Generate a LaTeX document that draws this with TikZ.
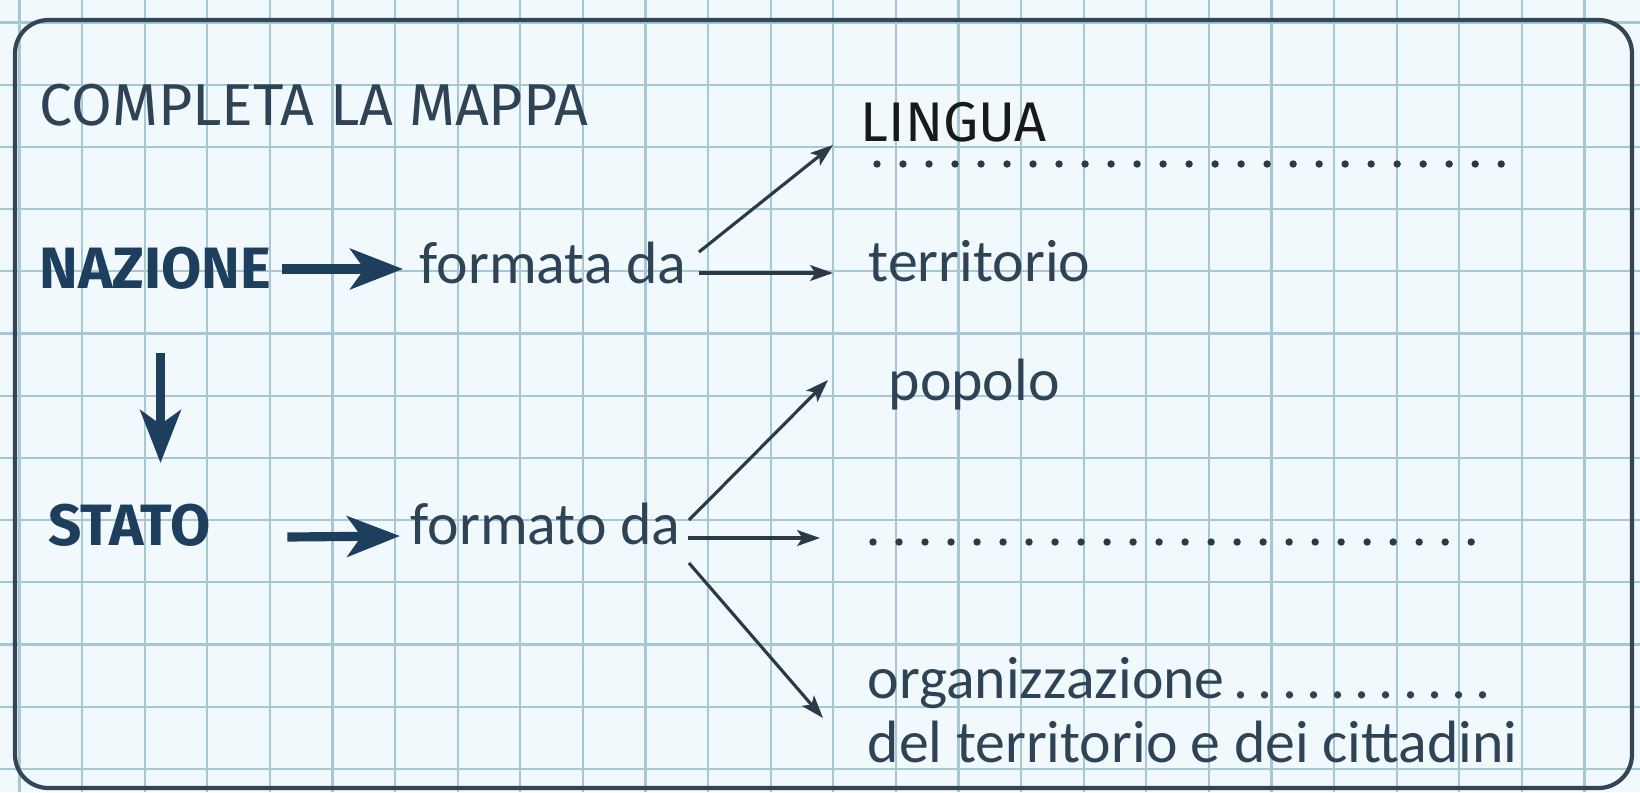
\documentclass[tikz,border=0pt]{standalone}
\usepackage{fontspec}
\setmainfont{Fira Sans}
\newfontfamily\handfont{Carlito}
\usetikzlibrary{arrows.meta}
\usetikzlibrary{calc}

\definecolor{paper}{RGB}{241,249,252}
\definecolor{gridline}{RGB}{166,199,212}
\definecolor{framecol}{RGB}{52,70,86}
\definecolor{ink}{RGB}{30,62,94}
\definecolor{slate}{RGB}{46,68,86}
\definecolor{pen}{RGB}{44,58,72}

\tikzset{
	word/.style={inner sep=0pt,anchor=base west},
	caps/.style={word,font=\fontsize{16.8}{20}\selectfont},
	boldcaps/.style={word,text=ink,font=\fontsize{16.6}{20}\selectfont\bfseries},
	hand/.style={word,text=slate,font=\handfont\fontsize{17}{20}\selectfont},
	bigarrow/.style={draw=ink,line width=2.6pt,-{Stealth[length=15pt,width=11.5pt,inset=4pt]}},
	thinarrow/.style={draw=pen,line width=0.9pt,-{Stealth[length=6.5pt,width=4.5pt,inset=1.5pt]}},
	blank/.style={draw=pen,line width=2.1pt,line cap=round,dash pattern=on 0pt off 7.4pt}
}

\newcommand{\gapdots}{\foreach \d in {1,...,11}{\kern2.6pt.}}

\begin{document}
\begin{tikzpicture}[x=0.1mm,y=-0.1mm]
	\useasboundingbox (0,0) rectangle (1640,792);
	%Squared paper
	\fill[paper] (0,0) rectangle (1640,792);
	\foreach \k in {0,...,25}
		\draw[gridline,line width=0.6pt] ({19.5+62.6*\k},0) -- ++(0,792);
	\foreach \k in {0,...,12}
		\draw[gridline,line width=0.6pt] (0,{22.5+62.2*\k}) -- ++(1640,0);
	%Frame
	\draw[framecol,line width=1.2pt,rounded corners=9.5pt] (15,20) rectangle (1632,788);

	%Title
	\node[caps,text=slate] (title) at (39,125) {COMPLETA LA MAPPA};

	%Upper row: nazione
	\node[boldcaps] (nazione) at (39,288) {NAZIONE};
	\node[hand] (formata) at (419,283) {formata da};
	\node[caps,text=black!90,font=\fontsize{15.9}{20}\selectfont] (lingua) at (860,141) {LINGUA};
	\node[hand] (territorio) at (868,281) {territorio};
	\coordinate (blankA) at (877,164);
	\coordinate (blankB) at (1504,164);
	\draw[blank] (blankA) -- (blankB);

	%Lower row: stato
	\node[boldcaps] (stato) at (48,545) {STATO};
	\node[hand] (formato) at (410,544) {formato da};
	\node[hand] (popolo) at (888,400) {popolo};
	\coordinate (blankC) at (873,542);
	\coordinate (blankD) at (1496,542);
	\draw[blank] (blankC) -- (blankD);
	\node[hand] (organizzazione) at (867,698) {organizzazione\gapdots};
	\node[hand] (cittadini) at (867,762) {del territorio e dei cittadini};

	%Thick arrows
	\draw[bigarrow] ($(nazione.base east)+(10,-19)$) -- ($(formata.base west)+(-16,-14)$);
	\draw[bigarrow] ($(nazione.base)+(5,65)$) -- ++(0,110);
	\draw[bigarrow] ($(stato.base east)+(76,-8)$) -- ($(formato.base west)+(-10,-8)$);

	%Thin arrows
	\draw[thinarrow] ($(formata.base east)+(12,-31)$) -- ($(lingua.base west)+(-27,4)$);
	\draw[thinarrow] ($(formata.base east)+(12,-10)$) -- ($(territorio.base west)+(-35,-8)$);
	\draw[thinarrow] ($(formato.base east)+(8,-24)$) -- ($(popolo.base west)+(-60,-20)$);
	\draw[thinarrow] ($(formato.base east)+(7,-6)$) -- ($(blankC)+(-53,-4)$);
	\draw[thinarrow] ($(formato.base east)+(8,19)$) -- ($(organizzazione.base west)+(-44,20)$);
\end{tikzpicture}
\end{document}
